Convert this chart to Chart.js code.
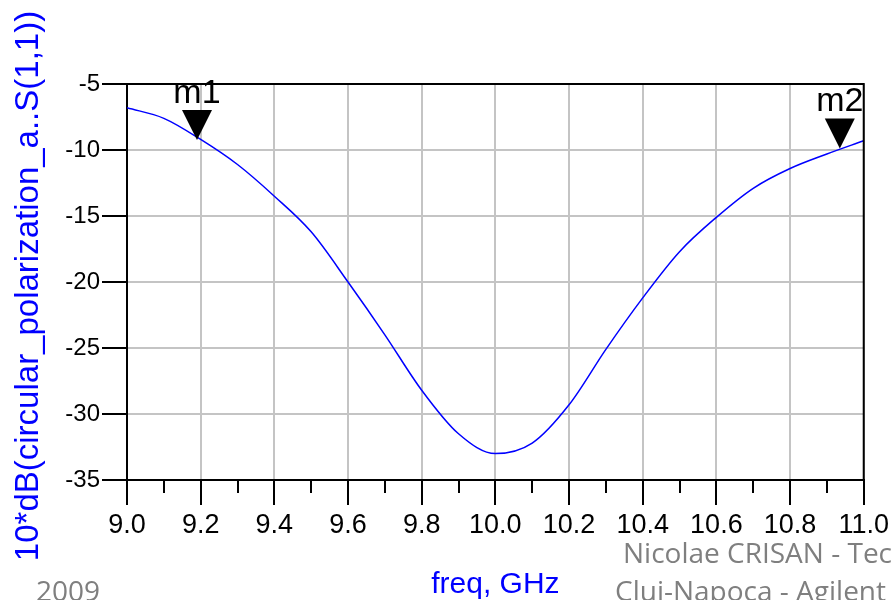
<!DOCTYPE html>
<html>
<head>
<meta charset="utf-8">
<script src="https://cdn.jsdelivr.net/npm/chart.js@4"></script>
<style>
    body { margin: 0; background: #fff; }
    .wrap { position: relative; width: 893px; height: 600px; overflow: hidden; background: #fff; }
    .foot { position: absolute; font-family: 'Open Sans', sans-serif; font-size: 28px; line-height: 28px; color: #7f7f7f; white-space: nowrap; }
</style>
</head>
<body>
<div class="wrap">
    <canvas id="myChart" width="893" height="600"></canvas>
    <div class="foot" style="left:36px; top:576px;">2009</div>
    <div class="foot" style="left:623px; top:538px;">Nicolae CRISAN - Technical University of</div>
    <div class="foot" style="left:615px; top:576px;">Cluj-Napoca - Agilent</div>
</div>
<script>
// curve, every 0.1 GHz
const freq = [9.0, 9.1, 9.2, 9.3, 9.4, 9.5, 9.6, 9.7, 9.8, 9.9, 10.0,
    10.1, 10.2, 10.3, 10.4, 10.5, 10.6, 10.7, 10.8, 10.9, 11.0];
const s11 = [-6.8, -7.6, -9.2, -11.1, -13.5, -16.2, -20.0, -24.0, -28.2, -31.5, -33.0,
    -32.2, -29.3, -25.1, -21.2, -17.7, -15.1, -12.9, -11.4, -10.3, -9.3];

// markers
const markerNames = ['m1', 'm2'];
const markerFreq = [9.19, 10.935];
const markerVal = [-9.24, -9.88];

const yTitle = '10*dB(circular_polarization_a..S(1,1))';
const xTitle = 'freq, GHz';

const points = freq.map((f, i) => ({ x: f, y: s11[i] }));

// box, minor ticks, markers and axis titles
const extras = {
    id: 'extras',
    afterDraw(chart) {
        const c = chart.ctx;
        const a = chart.chartArea;
        const xs = chart.scales.x;
        const ys = chart.scales.y;
        c.save();

        // top + right edges of the box
        c.strokeStyle = '#000';
        c.lineWidth = 2;
        c.beginPath();
        c.moveTo(a.left, a.top);
        c.lineTo(a.right, a.top);
        c.lineTo(a.right, a.bottom);
        c.stroke();

        // short ticks between the labelled ones
        for (let v = 9.1; v < 11; v += 0.2) {
            const px = Math.round(xs.getPixelForValue(v));
            c.beginPath();
            c.moveTo(px, a.bottom);
            c.lineTo(px, a.bottom + 13);
            c.stroke();
        }

        // markers
        c.fillStyle = '#000';
        c.font = '34px "Liberation Sans", Arial, sans-serif';
        c.textAlign = 'center';
        c.textBaseline = 'alphabetic';
        markerNames.forEach((name, i) => {
            const px = xs.getPixelForValue(markerFreq[i]);
            const py = ys.getPixelForValue(markerVal[i]);
            c.beginPath();
            c.moveTo(px - 15, py - 30);
            c.lineTo(px + 15, py - 30);
            c.lineTo(px, py);
            c.closePath();
            c.fill();
            c.save();
            c.beginPath();
            c.rect(0, 0, a.right, chart.height);
            c.clip();
            c.fillText(name, px, py - 37);
            c.restore();
        });

        // axis titles
        c.fillStyle = '#0000ff';
        c.font = '30px "Liberation Sans", Arial, sans-serif';
        c.textAlign = 'center';
        c.fillText(xTitle, (a.left + a.right) / 2, 593);

        c.translate(38, 286);
        c.rotate(-Math.PI / 2);
        c.font = '33px "Liberation Sans", Arial, sans-serif';
        c.fillText(yTitle, 0, 0);
        c.restore();
    }
};

const ctx = document.getElementById('myChart').getContext('2d');
const myChart = new Chart(ctx, {
    type: 'line',
    data: {
        datasets: [{
            data: points,
            borderColor: '#0000ff',
            borderWidth: 1.5,
            pointRadius: 0,
            fill: false,
            cubicInterpolationMode: 'monotone'
        }]
    },
    options: {
        responsive: false,
        animation: false,
        layout: { padding: { top: 84, right: 26, left: 0, bottom: 0 } },
        plugins: {
            legend: { display: false },
            tooltip: { enabled: false }
        },
        scales: {
            x: {
                type: 'linear',
                min: 9,
                max: 11,
                afterFit(scale) { scale.height = 120; },
                ticks: {
                    stepSize: 0.2,
                    color: '#000',
                    padding: 4,
                    maxRotation: 0,
                    autoSkip: false,
                    font: { family: '"Liberation Sans", Arial, sans-serif', size: 27 },
                    callback: v => v.toFixed(1)
                },
                grid: { color: '#c4c4c4', lineWidth: 2, tickColor: '#000', tickWidth: 2, tickLength: 25 },
                border: { color: '#000', width: 2 }
            },
            y: {
                min: -35,
                max: -5,
                afterFit(scale) { scale.width = 127; },
                ticks: {
                    stepSize: 5,
                    color: '#000',
                    padding: 2,
                    font: { family: '"Liberation Sans", Arial, sans-serif', size: 24 }
                },
                grid: { color: '#c4c4c4', lineWidth: 2, tickColor: '#000', tickWidth: 2, tickLength: 25 },
                border: { color: '#000', width: 2 }
            }
        }
    },
    plugins: [extras]
});
</script>
</body>
</html>
